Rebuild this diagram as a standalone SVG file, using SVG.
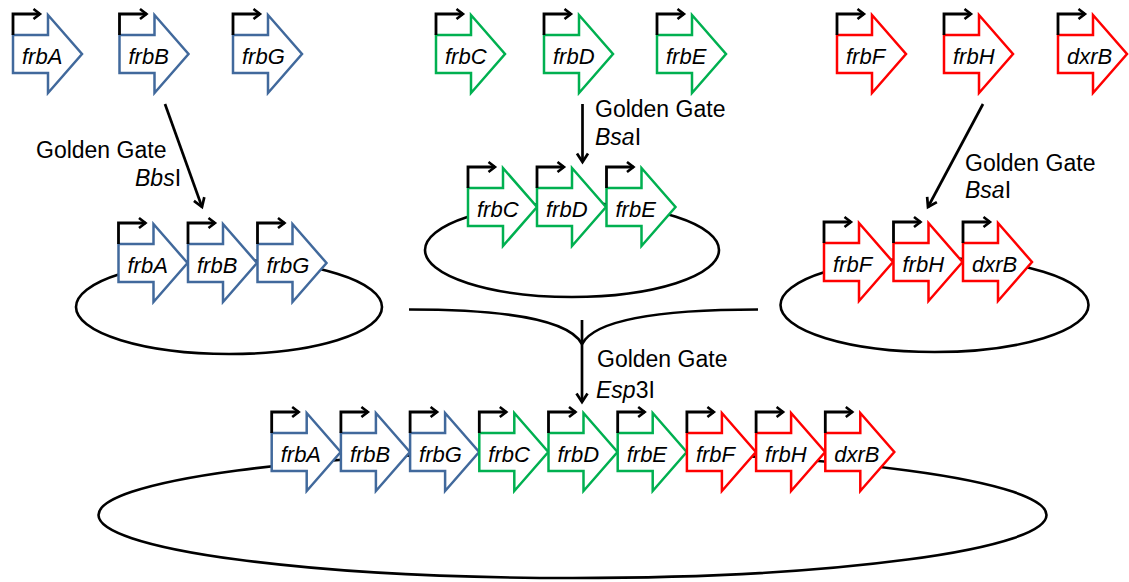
<svg xmlns="http://www.w3.org/2000/svg" width="1129" height="582" viewBox="0 0 1129 582">
<style>
.shape{fill:#fff;stroke-width:2.5;stroke-linejoin:miter}
.blue .shape{stroke:#41699C}
.green .shape{stroke:#00B050}
.red .shape{stroke:#FF0000}
.prom{fill:none;stroke:#000;stroke-width:2.8;marker-end:url(#pm)}
.lbl{font-family:"Liberation Sans",Arial,sans-serif;font-style:italic;font-size:22px;fill:#000}
.gg{font-family:"Liberation Sans",Arial,sans-serif;font-size:23px;fill:#000}
.it{font-style:italic}
.plasmid{fill:none;stroke:#000;stroke-width:2.6}
.conn{fill:none;stroke:#000;stroke-width:2.7}
.arr{marker-end:url(#ah)}
</style>
<defs>
<marker id="pm" markerUnits="userSpaceOnUse" markerWidth="12" markerHeight="12" viewBox="-9 -6 12 12" refX="0" refY="0" orient="auto" overflow="visible"><path d="M-6.5,-5 L0,0 L-6.5,5" fill="none" stroke="#000" stroke-width="2.6"/></marker>
<marker id="ah" markerUnits="userSpaceOnUse" markerWidth="14" markerHeight="14" viewBox="-10 -7 14 14" refX="0" refY="0" orient="auto" overflow="visible"><path d="M-8.5,-5.5 L0,0 L-8.5,5.5" fill="none" stroke="#000" stroke-width="2.7"/></marker>
</defs>

<!-- plasmid backbones -->
<g id="plasmids">
<ellipse id="plasmid-blue" class="plasmid" cx="229" cy="307" rx="153" ry="47"/>
<ellipse id="plasmid-green" class="plasmid" cx="572" cy="250" rx="147" ry="47"/>
<ellipse id="plasmid-red" class="plasmid" cx="934.5" cy="305" rx="154" ry="47"/>
<ellipse id="plasmid-final" class="plasmid" cx="572.5" cy="515" rx="474" ry="63"/>
</g>

<!-- connectors -->
<g id="connectors">
<line class="conn arr" x1="165" y1="104" x2="202" y2="207"/>
<line class="conn arr" x1="582.5" y1="104" x2="582.5" y2="162"/>
<line class="conn arr" x1="983" y1="104" x2="928" y2="207"/>
<path class="conn" d="M409,309.5 C495,309.5 568,318 582,344"/>
<path class="conn" d="M758,309.5 C670,309.5 596,318 582,344"/>
<line class="conn arr" x1="582" y1="320" x2="582" y2="402"/>
</g>

<!-- labels -->
<g id="labels">
<text class="gg" x="36" y="158">Golden Gate</text>
<text class="gg" x="135" y="186"><tspan class="it">Bbs</tspan>I</text>
<text class="gg" x="595" y="117">Golden Gate</text>
<text class="gg" x="595" y="145"><tspan class="it">Bsa</tspan>I</text>
<text class="gg" x="965" y="171">Golden Gate</text>
<text class="gg" x="965" y="198"><tspan class="it">Bsa</tspan>I</text>
<text class="gg" x="597" y="367">Golden Gate</text>
<text class="gg" x="596" y="398"><tspan class="it">Esp</tspan>3I</text>
</g>

<!-- top row genes -->
<g id="top-frbA" class="gene blue" transform="translate(13,15)"><polygon class="shape" points="0,20 35,20 35,0 69,39 35,78 35,58 0,58"/><path class="prom" d="M0,20 L0,-1 L27,-1"/><text class="lbl" x="9" y="49">frbA</text></g>
<g id="top-frbB" class="gene blue" transform="translate(119.5,15)"><polygon class="shape" points="0,20 35,20 35,0 69,39 35,78 35,58 0,58"/><path class="prom" d="M0,20 L0,-1 L27,-1"/><text class="lbl" x="9" y="49">frbB</text></g>
<g id="top-frbG" class="gene blue" transform="translate(233,15)"><polygon class="shape" points="0,20 35,20 35,0 69,39 35,78 35,58 0,58"/><path class="prom" d="M0,20 L0,-1 L27,-1"/><text class="lbl" x="9" y="49">frbG</text></g>
<g id="top-frbC" class="gene green" transform="translate(436,15)"><polygon class="shape" points="0,20 35,20 35,0 69,39 35,78 35,58 0,58"/><path class="prom" d="M0,20 L0,-1 L27,-1"/><text class="lbl" x="9" y="49">frbC</text></g>
<g id="top-frbD" class="gene green" transform="translate(544,15)"><polygon class="shape" points="0,20 35,20 35,0 69,39 35,78 35,58 0,58"/><path class="prom" d="M0,20 L0,-1 L27,-1"/><text class="lbl" x="9" y="49">frbD</text></g>
<g id="top-frbE" class="gene green" transform="translate(657,15)"><polygon class="shape" points="0,20 35,20 35,0 69,39 35,78 35,58 0,58"/><path class="prom" d="M0,20 L0,-1 L27,-1"/><text class="lbl" x="9" y="49">frbE</text></g>
<g id="top-frbF" class="gene red" transform="translate(837,15)"><polygon class="shape" points="0,20 35,20 35,0 69,39 35,78 35,58 0,58"/><path class="prom" d="M0,20 L0,-1 L27,-1"/><text class="lbl" x="9" y="49">frbF</text></g>
<g id="top-frbH" class="gene red" transform="translate(944,15)"><polygon class="shape" points="0,20 35,20 35,0 69,39 35,78 35,58 0,58"/><path class="prom" d="M0,20 L0,-1 L27,-1"/><text class="lbl" x="9" y="49">frbH</text></g>
<g id="top-dxrB" class="gene red" transform="translate(1058,15)"><polygon class="shape" points="0,20 35,20 35,0 69,39 35,78 35,58 0,58"/><path class="prom" d="M0,20 L0,-1 L27,-1"/><text class="lbl" x="9" y="49">dxrB</text></g>

<!-- intermediate plasmids -->
<g id="p1-frbA" class="gene blue" transform="translate(118.5,224)"><polygon class="shape" points="0,20 35,20 35,0 69,39 35,78 35,58 0,58"/><path class="prom" d="M0,20 L0,-1 L27,-1"/><text class="lbl" x="9" y="49">frbA</text></g>
<g id="p1-frbB" class="gene blue" transform="translate(188,224)"><polygon class="shape" points="0,20 35,20 35,0 69,39 35,78 35,58 0,58"/><path class="prom" d="M0,20 L0,-1 L27,-1"/><text class="lbl" x="9" y="49">frbB</text></g>
<g id="p1-frbG" class="gene blue" transform="translate(257.5,224)"><polygon class="shape" points="0,20 35,20 35,0 69,39 35,78 35,58 0,58"/><path class="prom" d="M0,20 L0,-1 L27,-1"/><text class="lbl" x="9" y="49">frbG</text></g>
<g id="p2-frbC" class="gene green" transform="translate(468,168)"><polygon class="shape" points="0,20 35,20 35,0 69,39 35,78 35,58 0,58"/><path class="prom" d="M0,20 L0,-1 L27,-1"/><text class="lbl" x="9" y="49">frbC</text></g>
<g id="p2-frbD" class="gene green" transform="translate(537,168)"><polygon class="shape" points="0,20 35,20 35,0 69,39 35,78 35,58 0,58"/><path class="prom" d="M0,20 L0,-1 L27,-1"/><text class="lbl" x="9" y="49">frbD</text></g>
<g id="p2-frbE" class="gene green" transform="translate(606.5,168)"><polygon class="shape" points="0,20 35,20 35,0 69,39 35,78 35,58 0,58"/><path class="prom" d="M0,20 L0,-1 L27,-1"/><text class="lbl" x="9" y="49">frbE</text></g>
<g id="p3-frbF" class="gene red" transform="translate(824,223)"><polygon class="shape" points="0,20 35,20 35,0 69,39 35,78 35,58 0,58"/><path class="prom" d="M0,20 L0,-1 L27,-1"/><text class="lbl" x="9" y="49">frbF</text></g>
<g id="p3-frbH" class="gene red" transform="translate(893.5,223)"><polygon class="shape" points="0,20 35,20 35,0 69,39 35,78 35,58 0,58"/><path class="prom" d="M0,20 L0,-1 L27,-1"/><text class="lbl" x="9" y="49">frbH</text></g>
<g id="p3-dxrB" class="gene red" transform="translate(963,223)"><polygon class="shape" points="0,20 35,20 35,0 69,39 35,78 35,58 0,58"/><path class="prom" d="M0,20 L0,-1 L27,-1"/><text class="lbl" x="9" y="49">dxrB</text></g>

<!-- final plasmid -->
<g id="f-frbA" class="gene blue" transform="translate(271.7,413)"><polygon class="shape" points="0,20 35,20 35,0 69,39 35,78 35,58 0,58"/><path class="prom" d="M0,20 L0,-1 L27,-1"/><text class="lbl" x="9" y="49">frbA</text></g>
<g id="f-frbB" class="gene blue" transform="translate(340.9,413)"><polygon class="shape" points="0,20 35,20 35,0 69,39 35,78 35,58 0,58"/><path class="prom" d="M0,20 L0,-1 L27,-1"/><text class="lbl" x="9" y="49">frbB</text></g>
<g id="f-frbG" class="gene blue" transform="translate(410.1,413)"><polygon class="shape" points="0,20 35,20 35,0 69,39 35,78 35,58 0,58"/><path class="prom" d="M0,20 L0,-1 L27,-1"/><text class="lbl" x="9" y="49">frbG</text></g>
<g id="f-frbC" class="gene green" transform="translate(479.3,413)"><polygon class="shape" points="0,20 35,20 35,0 69,39 35,78 35,58 0,58"/><path class="prom" d="M0,20 L0,-1 L27,-1"/><text class="lbl" x="9" y="49">frbC</text></g>
<g id="f-frbD" class="gene green" transform="translate(548.5,413)"><polygon class="shape" points="0,20 35,20 35,0 69,39 35,78 35,58 0,58"/><path class="prom" d="M0,20 L0,-1 L27,-1"/><text class="lbl" x="9" y="49">frbD</text></g>
<g id="f-frbE" class="gene green" transform="translate(617.7,413)"><polygon class="shape" points="0,20 35,20 35,0 69,39 35,78 35,58 0,58"/><path class="prom" d="M0,20 L0,-1 L27,-1"/><text class="lbl" x="9" y="49">frbE</text></g>
<g id="f-frbF" class="gene red" transform="translate(686.9,413)"><polygon class="shape" points="0,20 35,20 35,0 69,39 35,78 35,58 0,58"/><path class="prom" d="M0,20 L0,-1 L27,-1"/><text class="lbl" x="9" y="49">frbF</text></g>
<g id="f-frbH" class="gene red" transform="translate(756.1,413)"><polygon class="shape" points="0,20 35,20 35,0 69,39 35,78 35,58 0,58"/><path class="prom" d="M0,20 L0,-1 L27,-1"/><text class="lbl" x="9" y="49">frbH</text></g>
<g id="f-dxrB" class="gene red" transform="translate(825.3,413)"><polygon class="shape" points="0,20 35,20 35,0 69,39 35,78 35,58 0,58"/><path class="prom" d="M0,20 L0,-1 L27,-1"/><text class="lbl" x="9" y="49">dxrB</text></g>
</svg>
